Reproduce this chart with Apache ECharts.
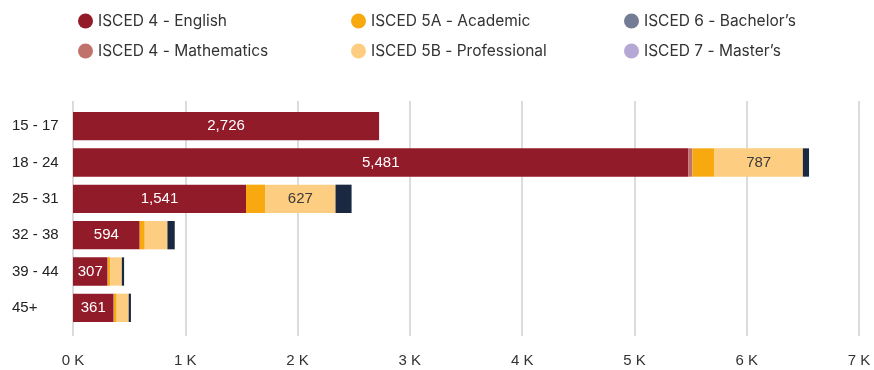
<!DOCTYPE html>
<html>
<head>
<meta charset="utf-8">
<script src="https://cdn.jsdelivr.net/npm/echarts@6/dist/echarts.min.js"></script>
<style>
  html, body { margin: 0; padding: 0; background: #fff; }
  #chart { width: 874px; height: 370px; }
</style>
</head>
<body>
<div id="chart"></div>
<script>
// Age groups (top to bottom)
const ageGroups = ['15 - 17', '18 - 24', '25 - 31', '32 - 38', '39 - 44', '45+'];

// Enrolments per programme and age group
const englishISCED4 = [2726, 5481, 1541, 594, 307, 361];
const mathsISCED4   = [0, 36, 0, 0, 4, 4];
const academic5A    = [0, 196, 170, 45, 20, 24];
const professional5B = [0, 787, 627, 202, 104, 107];
const bachelors6    = [0, 55, 143, 65, 20, 20];
const masters7      = [0, 0, 0, 0, 0, 0];

// X axis ticks (thousands)
const xTicks = [0, 1000, 2000, 3000, 4000, 5000, 6000, 7000];

const seriesNames = [
  'ISCED 4 - English', 'ISCED 4 - Mathematics',
  'ISCED 5A - Academic', 'ISCED 5B - Professional',
  'ISCED 6 - Bachelor\u2019s', 'ISCED 7 - Master\u2019s'
];
const barColors = ['#921b29', '#c0736b', '#f7a90f', '#fdcd81', '#1b2841', '#b6a8d5'];
const legendColors = ['#921b29', '#c0736b', '#f7a90f', '#fdcd81', '#747c95', '#b6a8d5'];
const seriesData = [englishISCED4, mathsISCED4, academic5A, professional5B, bachelors6, masters7];

const fmt = v => Number(v).toLocaleString('en-US');

const series = seriesData.map((d, i) => ({
  name: seriesNames[i],
  type: 'bar',
  stack: 'total',
  barWidth: '78%',
  data: d,
  itemStyle: { color: barColors[i] },
  label: {
    show: i === 0 || i === 3,
    position: 'inside',
    fontFamily: 'Liberation Sans',
    fontSize: 15,
    color: i === 0 ? '#ffffff' : '#3a3a3a',
    formatter: p => (i === 0 || p.value >= 300) ? fmt(p.value) : ''
  },
  emphasis: { disabled: true }
}));

const legendCol = (names, left) => ({
  orient: 'vertical',
  left: left,
  top: 8,
  itemWidth: 15,
  itemHeight: 15,
  itemGap: 14,
  itemTextGap: 7,
  icon: 'circle',
  textStyle: { fontFamily: 'Inter', fontSize: 15.5, color: '#333' },
  selectedMode: false,
  data: names.map(n => ({ name: n, itemStyle: { color: legendColors[seriesNames.indexOf(n)] } }))
});

const chart = echarts.init(document.getElementById('chart'), null, { renderer: 'canvas' });
chart.setOption({
  animation: false,
  backgroundColor: '#ffffff',
  legend: [
    legendCol([seriesNames[0], seriesNames[1]], 73),
    legendCol([seriesNames[2], seriesNames[3]], 346),
    legendCol([seriesNames[4], seriesNames[5]], 619)
  ],
  grid: { left: 73, right: 15, top: 108, bottom: 44, containLabel: false },
  xAxis: [
    {
      type: 'value',
      position: 'bottom',
      min: xTicks[0],
      max: xTicks[xTicks.length - 1],
      interval: 1000,
      axisLine: { show: false },
      axisTick: { show: true, length: 10, lineStyle: { color: '#d0d0d0', width: 1.5 } },
      splitLine: { show: true, lineStyle: { color: '#d0d0d0', width: 1.5 } },
      axisLabel: {
        margin: 27,
        fontFamily: 'Liberation Sans',
        fontSize: 15,
        color: '#333',
        formatter: v => (v / 1000) + ' K'
      }
    },
    {
      type: 'value',
      position: 'top',
      min: xTicks[0],
      max: xTicks[xTicks.length - 1],
      interval: 1000,
      axisLine: { show: false },
      axisTick: { show: true, length: 7, lineStyle: { color: '#d0d0d0', width: 1.5 } },
      splitLine: { show: false },
      axisLabel: { show: false }
    }
  ],
  yAxis: {
    type: 'category',
    data: ageGroups,
    inverse: true,
    axisLine: { show: false },
    axisTick: { show: false },
    axisLabel: {
      align: 'left',
      margin: 61,
      fontFamily: 'Liberation Sans',
      fontSize: 15,
      color: '#222'
    }
  },
  series: series
});
</script>
</body>
</html>
